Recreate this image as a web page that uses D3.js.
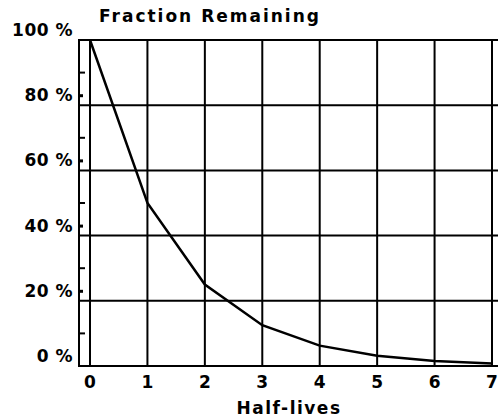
<!DOCTYPE html>
<html>
<head>
<meta charset="utf-8">
<script src="https://cdn.jsdelivr.net/npm/d3@7"></script>
<style>
  body { margin: 0; background: #fff; }
  text { font-family: "DejaVu Sans", sans-serif; font-weight: bold; fill: #000; }
</style>
</head>
<body>
<svg id="chart" width="498" height="419"></svg>
<script>
// half-lives and fraction remaining (%)
var halfLives = [0, 1, 2, 3, 4, 5, 6, 7];
var remaining = [100, 50, 25, 12.5, 6.25, 3.13, 1.56, 0.78];
var yTicks = [0, 20, 40, 60, 80, 100];
var yMinor = [10, 30, 50, 70, 90];

var svg = d3.select("#chart");

var x = d3.scaleLinear().domain([0, 7]).range([90, 492]);
var y = d3.scaleLinear().domain([0, 100]).range([366, 40]);

var grid = svg.append("g").attr("class", "grid");

// vertical lines
grid.selectAll("line.v")
	.data(halfLives)
	.enter()
	.append("line")
	.attr("x1", function(d){ return x(d); })
	.attr("x2", function(d){ return x(d); })
	.attr("y1", y(100))
	.attr("y2", y(0))
	.attr("stroke", "#000")
	.attr("stroke-width", 2);

// horizontal lines (they run off to the right edge)
grid.selectAll("line.h")
	.data(yTicks)
	.enter()
	.append("line")
	.attr("x1", 79)
	.attr("x2", 498)
	.attr("y1", function(d){ return y(d); })
	.attr("y2", function(d){ return y(d); })
	.attr("stroke", "#000")
	.attr("stroke-width", 2);

// left frame
grid.append("line")
	.attr("x1", 79).attr("x2", 79)
	.attr("y1", y(100) - 1).attr("y2", y(0) + 1)
	.attr("stroke", "#000")
	.attr("stroke-width", 2);

// minor ticks on the left
grid.selectAll("line.minor")
	.data(yMinor)
	.enter()
	.append("line")
	.attr("x1", 79).attr("x2", 85)
	.attr("y1", function(d){ return y(d); })
	.attr("y2", function(d){ return y(d); })
	.attr("stroke", "#000")
	.attr("stroke-width", 2);

// little marks beside the labels
grid.selectAll("rect.dot")
	.data(yTicks.filter(function(d){ return d > 0 && d < 100; }))
	.enter()
	.append("rect")
	.attr("x", 80)
	.attr("y", function(d){ return y(d) - 11; })
	.attr("width", 3)
	.attr("height", 3)
	.attr("fill", "#000");

// y labels
svg.selectAll("text.ylab")
	.data(yTicks)
	.enter()
	.append("text")
	.attr("class", "ylab")
	.attr("x", 73)
	.attr("y", function(d){ return y(d) - 10; })
	.attr("dy", "0.35em")
	.attr("text-anchor", "end")
	.style("font-size", "17px")
	.style("letter-spacing", "0.5px")
	.text(function(d){ return d + " %"; });

// x labels
svg.selectAll("text.xlab")
	.data(halfLives)
	.enter()
	.append("text")
	.attr("class", "xlab")
	.attr("x", function(d){ return x(d); })
	.attr("y", 382)
	.attr("dy", "0.35em")
	.attr("text-anchor", "middle")
	.style("font-size", "17px")
	.text(function(d){ return d; });

// curve
var line = d3.line()
	.x(function(d, i){ return x(halfLives[i]); })
	.y(function(d){ return y(d); });

svg.append("path")
	.datum(remaining)
	.attr("d", line)
	.attr("fill", "none")
	.attr("stroke", "#000")
	.attr("stroke-width", 2.5);

// titles
svg.append("text")
	.attr("x", 210)
	.attr("y", 16)
	.attr("dy", "0.35em")
	.attr("text-anchor", "middle")
	.style("font-size", "17px")
	.style("letter-spacing", "2px")
	.text("Fraction Remaining");

svg.append("text")
	.attr("x", 289)
	.attr("y", 408)
	.attr("dy", "0.35em")
	.attr("text-anchor", "middle")
	.style("font-size", "17px")
	.style("letter-spacing", "1.5px")
	.text("Half-lives");
</script>
</body>
</html>
